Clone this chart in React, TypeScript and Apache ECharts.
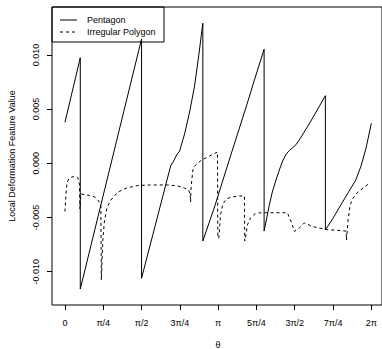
import React, { useEffect, useRef } from "react";
import * as echarts from "echarts";

const PI = Math.PI;

// Pentagon (solid) — theta (radians) and feature values
const pentagonTheta = [
  0, PI / 10, PI / 10, PI / 2, PI / 2,
  2.167, 2.218, 2.29, 2.351, 2.453, 2.556, 2.658, 2.74,
  (9 * PI) / 10, (9 * PI) / 10,
  3.067, 3.408, 3.715, 3.885,
  (13 * PI) / 10, (13 * PI) / 10,
  4.15, 4.191, 4.252, 4.328, 4.396, 4.463, 4.539, 4.6, 4.661, 4.723, 4.805, 5.009, 5.173,
  (17 * PI) / 10, (17 * PI) / 10,
  5.5, 5.657, 5.827, 5.964, 6.072, 6.175, 2 * PI,
];
const pentagonValue = [
  0.00378, 0.00974, -0.0116, 0.01147, -0.01061,
  -0.00025, 0.00012, 0.00077, 0.00113, 0.0027, 0.00473, 0.00713, 0.00981,
  0.01292, -0.00717,
  -0.00403, 0.00086, 0.00519, 0.00768,
  0.01052, -0.00625,
  -0.00477, -0.00385, -0.00265, -0.00154, -0.00062, 0.00021, 0.00086, 0.00118, 0.00141, 0.00164, 0.00215, 0.00363, 0.00492,
  0.00624, -0.00615,
  -0.00505, -0.00385, -0.00256, -0.00154, -0.00025, 0.00141, 0.00369,
];

// Irregular polygon (dashed)
const irregularTheta = [
  0, 0.02, 0.041, 0.082, 0.143, 0.225, 0.266, 0.296, 0.307,
  0.327, 0.511, 0.613, 0.675, 0.716, 0.736, 0.746,
  0.756, 0.777, 0.808, 0.859, 0.941, 1.084, 1.268, 1.493, 1.738, 2.106, 2.31, 2.453, 2.535, 2.566, 2.576,
  2.586, 2.622, 2.678, 2.801, 2.965, 3.128, 3.134,
  3.155, 3.19, 3.237, 3.313, 3.415, 3.579, 3.68, 3.687,
  3.701, 3.742, 3.803, 3.905, 4.028, 4.56, 4.641, 4.703, 4.805, 4.907, 4.969, 5.071, 5.214, 5.357, 5.541, 5.766, 5.772,
  5.786, 5.807, 5.848, 5.909, 5.991, 6.114, 6.236,
];
const irregularValue = [
  -0.00445, -0.00292, -0.00182, -0.0014, -0.00126, -0.00122, -0.00136, -0.00191, -0.00422,
  -0.00283, -0.00297, -0.00311, -0.00339, -0.00366, -0.00394, -0.01077,
  -0.01077, -0.00708, -0.00542, -0.00412, -0.00339, -0.00265, -0.00228, -0.00205, -0.002, -0.002, -0.00209, -0.00228, -0.00246, -0.00283, -0.00357,
  -0.00228, -0.00062, -0.00016, 0.0003, 0.00067, 0.00104, -0.00689,
  -0.00689, -0.00477, -0.00375, -0.00329, -0.00311, -0.00302, -0.00302, -0.00717,
  -0.00689, -0.00569, -0.00505, -0.00463, -0.00456, -0.00456, -0.00542, -0.00629, -0.00597, -0.00551, -0.0056, -0.00583, -0.00597, -0.00611, -0.00617, -0.00625, -0.00708,
  -0.00708, -0.00523, -0.00385, -0.0032, -0.00274, -0.00228, -0.00186,
];

const xTickValues = [0, PI / 4, PI / 2, (3 * PI) / 4, PI, (5 * PI) / 4, (3 * PI) / 2, (7 * PI) / 4, 2 * PI];
const xTickLabels = ["0", "\u03c0/4", "\u03c0/2", "3\u03c0/4", "\u03c0", "5\u03c0/4", "3\u03c0/2", "7\u03c0/4", "2\u03c0"];
const yTickValues = [-0.01, -0.005, 0, 0.005, 0.01];
const yTickLabels = ["-0.010", "-0.005", "0.000", "0.005", "0.010"];

const seriesNames = ["Pentagon", "Irregular Polygon"];

const FONT = "'Liberation Sans', Arial, Helvetica, sans-serif";

export default function App() {
  const ref = useRef<HTMLDivElement>(null);
  useEffect(() => {
    if (!ref.current) return;
    const chart = echarts.init(ref.current, undefined, { renderer: "svg" });
    const pxPerRad = 48.91;
    const xMin = -13 / pxPerRad;
    const xMax = xMin + 331 / pxPerRad;
    const pxPerVal = 54.2 / 0.005;
    const yMax = (163.3 - 7) / pxPerVal;
    const yMin = (163.3 - 305) / pxPerVal;
    const pick = (vals: number[], labels: string[]) => (v: number) => {
      let best = 0;
      for (let i = 0; i < vals.length; i++) if (Math.abs(vals[i] - v) < Math.abs(vals[best] - v)) best = i;
      return labels[best];
    };
    chart.setOption({
      animation: false,
      backgroundColor: "#ffffff",
      grid: {
        left: 52,
        top: 7,
        right: -1,
        bottom: 44,
        show: true,
        borderColor: "#000",
        borderWidth: 1,
        backgroundColor: "transparent",
      },
      xAxis: {
        type: "value",
        min: xMin,
        max: xMax,
        position: "bottom",
        axisLine: { show: false, onZero: false },
        splitLine: { show: false },
        axisTick: { show: true, customValues: xTickValues, length: 5, lineStyle: { color: "#000", width: 1 } },
        axisLabel: {
          customValues: xTickValues,
          formatter: pick(xTickValues, xTickLabels),
          margin: 13,
          fontSize: 9,
          color: "#000",
          fontFamily: FONT,
        },
      },
      yAxis: {
        type: "value",
        min: yMin,
        max: yMax,
        position: "left",
        axisLine: { show: false, onZero: false },
        splitLine: { show: false },
        axisTick: { show: true, customValues: yTickValues, length: 5, lineStyle: { color: "#000", width: 1 } },
        axisLabel: {
          customValues: yTickValues,
          formatter: pick(yTickValues, yTickLabels),
          rotate: 90,
          margin: 12,
          fontSize: 9,
          color: "#000",
          fontFamily: FONT,
        },
      },
      series: [
        {
          name: seriesNames[0],
          type: "line",
          data: pentagonTheta.map((t, i) => [t, pentagonValue[i]]),
          showSymbol: false,
          symbol: "none",
          lineStyle: { color: "#000", width: 1, type: "solid" },
          silent: true,
        },
        {
          name: seriesNames[1],
          type: "line",
          data: irregularTheta.map((t, i) => [t, irregularValue[i]]),
          showSymbol: false,
          symbol: "none",
          lineStyle: { color: "#000", width: 1, type: [3, 3] },
          silent: true,
        },
      ],
      graphic: [
        {
          type: "rect",
          shape: { x: 52, y: 7, width: 112, height: 35 },
          style: { fill: "none", stroke: "#000", lineWidth: 1 },
          silent: true,
        },
        {
          type: "line",
          shape: { x1: 60, y1: 20, x2: 77, y2: 20 },
          style: { stroke: "#000", lineWidth: 1 },
        },
        {
          type: "line",
          shape: { x1: 60, y1: 32, x2: 77, y2: 32 },
          style: { stroke: "#000", lineWidth: 1, lineDash: [3, 3] },
        },
        {
          type: "text",
          x: 87,
          y: 20,
          style: { text: seriesNames[0], fontSize: 9, fontFamily: FONT, fill: "#000", verticalAlign: "middle", align: "left" },
        },
        {
          type: "text",
          x: 87,
          y: 32,
          style: { text: seriesNames[1], fontSize: 9, fontFamily: FONT, fill: "#000", verticalAlign: "middle", align: "left" },
        },
        {
          type: "text",
          x: 218,
          y: 345,
          style: { text: "\u03b8", fontSize: 9, fontFamily: FONT, fill: "#000", verticalAlign: "middle", align: "center" },
        },
        {
          type: "text",
          x: 12,
          y: 156,
          rotation: Math.PI / 2,
          style: {
            text: "Local Deformation Feature Value",
            fontSize: 9,
            fontFamily: FONT,
            fill: "#000",
            verticalAlign: "middle",
            align: "center",
          },
        },
      ],
    });
    return () => chart.dispose();
  }, []);
  return (
    <div
      ref={ref}
      style={{ position: "fixed", left: 0, top: 0, width: 382, height: 349, background: "#fff" }}
    />
  );
}
